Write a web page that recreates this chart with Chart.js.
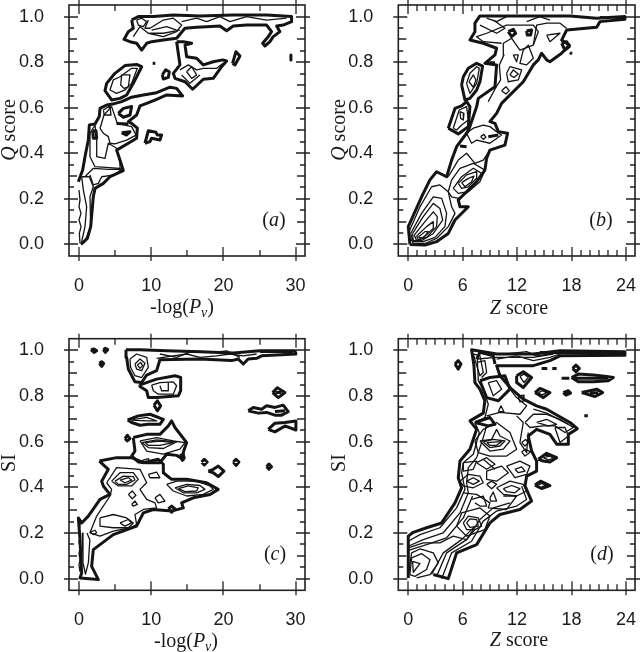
<!DOCTYPE html>
<html lang="en">
<head>
<meta charset="UTF-8">
<title>Q score and SI contours</title>
<script src="https://cdn.jsdelivr.net/npm/chart.js"></script>
<style>
  html, body { margin: 0; padding: 0; background: #fff; }
  #wrap { position: relative; width: 640px; height: 652px; overflow: hidden; }
  canvas { position: absolute; }
</style>
</head>
<body>
<div id="wrap">
  <canvas id="a" width="320" height="326" style="left:0;top:0"></canvas>
  <canvas id="b" width="320" height="326" style="left:320px;top:0"></canvas>
  <canvas id="c" width="320" height="326" style="left:0;top:326px"></canvas>
  <canvas id="d" width="320" height="326" style="left:320px;top:326px"></canvas>
</div>
<script>
// tick values
const yMajor = [0, 0.2, 0.4, 0.6, 0.8, 1];
const yMid = [0.1, 0.3, 0.5, 0.7, 0.9];
const yMinor = [0.05, 0.15, 0.25, 0.35, 0.45, 0.55, 0.65, 0.75, 0.85, 0.95];
const logMajor = [0, 10, 20, 30];
const logMinor = [5, 15, 25];
const zMajor = [0, 6, 12, 18, 24];
const zMinor = [1, 2, 3, 4, 5, 7, 8, 9, 10, 11, 13, 14, 15, 16, 17, 19, 20, 21, 22, 23];

// contours, as flat x,y lists
const aHeavy = [
  [0.28,0,1.15,.026,1.62,.078,1.98,.209,2.22,.246,3.37,.268,4.29,.297,6.14,.324,5.68,.37,5.21,.414,6.83,.444,7.98,.466,8.08,.51,7.29,.531,6.83,.539,7.98,.568,8.44,.608,9.37,.619,10.75,.637,12.14,.656,14.35,.652,13.52,.685,12.6,.69,10.75,.666,8.91,.656,7.29,.646,5.91,.627,4.66,.616,3.83,.612,2.91,.597,2.81,.561,2.22,.529,1.43,.524,1.29,.458,.83,.385,.51,.327,-.09,.275],
  [7.29,.985,8.21,1,10.29,1,13.06,1.007,16.75,1.003,21.37,1.007,25.98,1.007,29.44,1,29.44,.978,28.29,.963,27.37,.959,27.83,.934,26.9,.912,26.44,.89,25.75,.871,25.43,.883,26.21,.912,26.67,.934,25.98,.963,23.21,.963,21.37,.959,20.44,.938,19.52,.959,17.67,.956,16.29,.953,14.68,.949,13.52,.905,11.68,.897,10.06,.89,9.37,.883,8.68,.853,7.98,.883,7.06,.89,6.23,.9,6.83,.934,7.52,.949,7.29,.985],
  [13.52,.89,14.45,.89,15.6,.883,14.68,.875,14.91,.824,16.29,.817,17.21,.788,18.6,.802,19.89,.81,20.44,.805,19.75,.78,18.6,.729,17.21,.725,15.74,.681,14.68,.714,13.29,.729,13.06,.751,13.98,.788,13.75,.839,13.52,.89],
  [11.54,.744,12,.766,12.51,.758,12.37,.733,11.68,.726,11.54,.744],
  [21.27,.795,21.74,.846,22.29,.827,21.6,.788,21.27,.795],
  [10.2,.795,10.57,.795],
  [29.35,.832,29.35,.81],
  [9.14,.444,9.6,.499,10.66,.492,10.85,.48,11.44,.48,11.21,.458,10.06,.466,9.83,.451,9.14,.444],
  [4.98,.751,6.37,.785,7.98,.79,8.68,.78,7.52,.707,6.6,.656,5.68,.641,4.52,.634,3.6,.675,3.83,.707,4.98,.751],
  [5.45,.575,6.14,.597,7.29,.605,7.06,.568,6.14,.558,5.45,.575],
  [1.89,.499,2.35,.499,2.45,.466,1.98,.466,1.89,.499],
  [5.91,.49,7.06,.495,6.6,.48,5.91,.49],
  [5.21,.531,6.83,.529]
];
const aLight = [
  [5.68,.736,7.29,.773,8.08,.773,7.29,.707,6.37,.678,5.21,.663,4.29,.678,4.75,.722,5.68,.736],
  [5.91,.744,7.06,.744,6.83,.692,6.23,.685,5.77,.70,5.91,.744],
  [3.37,.59,4.29,.608,4.43,.568,3.51,.568,3.37,.59],
  [2.91,.509,3.46,.568,4.52,.605,5.31,.531,7.29,.517,7.89,.48,6.6,.458,4.98,.441,4.29,.444,4.06,.473,3.37,.488,2.91,.509],
  [1.52,.488,2.22,.524,2.45,.458,2.45,.385,3.6,.378,4.06,.444,5.21,.422,5.68,.356,5.68,.334,2.22,.341,1.52,.385,1.52,.488],
  [.83,.297,1.98,.334,4.06,.329,5.91,.331,4.98,.305,3.14,.297,2.68,.268,1.98,.261,1.52,.305],
  [.37,.297,1.43,.297,1.98,.253,1.52,.209,1.62,.078,.83,.012,.37,.012,.83,.078,1.06,.165,.6,.239,.37,.297],
  [0,.239,.14,.195,0,.165,.28,.136,0,.107,.28,.078,.05,.048,.14,.004],
  [7.98,.985,8.68,.993,9.37,.978,8.91,.956,8.21,.963,7.98,.985],
  [7.52,.912,8.45,.956,9.6,.927,11.68,.912,13.52,.934,14.21,.963,13.06,.993,11.68,.985,9.83,.949,9.14,.949,9.6,.985],
  [14.21,.978,16.29,.993,17.67,.978,19.52,1,20.9,.978,23.21,1,25.98,.985,28.75,.993],
  [9.83,.927,11.68,.927,13.98,.941],
  [10.06,.941,12.14,.956,13.52,.941],
  [13.98,.766,15.14,.788,16.29,.766,17.21,.773,19.06,.773,19.98,.795],
  [14.91,.758,15.6,.78,16.29,.744,15.6,.729,14.91,.758],
  [14.21,.744,15.37,.707,16.75,.744]
];
const bHeavy = [
  [.18,0,1.84,-.003,3.12,.012,4.41,.048,5.15,.107,6.62,.165,5.7,.165,5.51,.195,6.62,.239,7.54,.275,8.45,.326,8.64,.378,9,.414,10.66,.436,10.95,.488,9.93,.495,9.56,.531,9,.539,9.74,.575,10.29,.619,12.68,.714,13.79,.788,14.34,.81,14.7,.839,15.26,.81,15.62,.802,16.91,.839,17.76,.875,16.91,.897,17.46,.941,20.77,.953,21.14,.978,23.89,.988,23.89,1,20.77,.993,17.83,1.003,7.9,1.003,7.35,.971,7.35,.934,6.8,.897,8.27,.883,9.74,.861,9.56,.832,8.45,.795,9.74,.788,9.56,.692,7.72,.641,7.54,.605,6.73,.51,6.43,.488,5.33,.429,4.78,.37,4.23,.297,3.12,.319,2.39,.283,1.47,.209,0,.078,.18,0],
  [5.88,.70,6.07,.736,6.62,.773,7.54,.795,8.2,.783,7.9,.714,7.54,.678,6.8,.641,6.25,.634,5.88,.70],
  [4.41,.51,5.15,.597,5.88,.608,6.43,.627,6.8,.605,6.62,.517,5.51,.485,4.41,.51],
  [16.91,.883,17.46,.89,17.76,.868,17.28,.853,16.91,.883],
  [11.03,.934,11.58,.944,11.84,.927,11.4,.912,11.03,.934],
  [13.05,.938,13.6,.941,13.49,.919,13.12,.919,13.05,.938],
  [17.83,.842,18.05,.836],
  [8.64,.798,9.56,.798],
  [5.7,.432,6.43,.429],
  [8.82,.473,9.93,.48]
];
const bLight = [
  [0,.048,1.29,.165,2.57,.253,3.49,.261,4.41,.231,4.78,.165,5.15,.136,4.41,.078,3.12,.026,1.84,.004,.55,.004,0,.048],
  [.26,.048,1.47,.136,2.76,.209,3.68,.202,4.23,.136,4.04,.078,2.94,.031,1.65,.012,.55,.012,.26,.048],
  [.48,.048,1.65,.122,2.76,.18,3.49,.158,3.79,.107,2.76,.048,1.47,.016,.55,.016,.48,.048],
  [.66,.041,1.84,.1,2.76,.143,3.2,.122,3.12,.078,2.02,.031,.92,.016,.66,.041],
  [.92,.037,2.02,.078,2.76,.1,2.76,.07,1.84,.037,1.1,.019,.92,.037],
  [1.1,.031,1.84,.056,2.21,.056,1.65,.026,1.1,.031],
  [4.41,.231,4.78,.283,5.7,.334,7.17,.356,8.45,.326,7.9,.275,6.62,.231,5.51,.202,4.78,.209,4.41,.231],
  [4.96,.246,5.88,.297,7.17,.334,8.09,.312,7.35,.268,6.43,.231,5.51,.224,4.96,.246],
  [5.51,.268,6.43,.305,7.54,.319,7.54,.29,6.62,.253,5.88,.246,5.51,.268],
  [5.88,.271,6.62,.29,7.24,.3,6.98,.275,6.25,.253,5.88,.271],
  [4.41,.297,5.51,.37,6.43,.4,7.35,.356,8.27,.37,9,.414],
  [6.43,.488,7.17,.51,8.27,.524,9,.517,9.74,.495,10.29,.48,9,.444,7.54,.458,6.98,.444,6.43,.488],
  [7.98,.473,8.34,.483,8.56,.47,8.27,.461,7.98,.473],
  [8.82,.627,9.67,.69,10.18,.722,10.04,.788,10.55,.832,10.48,.883,11.4,.905,12.31,.853,13.79,.875,14.34,.934,13.79,.963,10.84,.963,8.64,.927,7.54,.912,8.27,.89,10.29,.883],
  [10.29,.675,10.77,.692,11.14,.675,10.77,.66,10.29,.675],
  [10.84,.751,11.21,.78,12.5,.766,12.13,.722,11.03,.714,10.84,.751],
  [11.21,.744,11.58,.766,12.13,.748,11.65,.733,11.21,.744],
  [11.58,.832,12.13,.832,11.95,.802,11.58,.832],
  [12.68,.853,13.23,.875,13.79,.817,13.05,.788,12.31,.795,12.68,.853],
  [15.26,.919,16.73,.927,15.62,.89,15.26,.919],
  [13.79,.875,14.15,.963,15.26,.971,16.73,.971,17.46,.949],
  [7.9,.963,9.74,.927,10.66,.949,9.37,.985],
  [8.64,.993,9.74,.978,10.84,1],
  [13.05,.978,14.52,1,15.62,.985],
  [21.14,1,23.89,.993],
  [6.43,.707,6.8,.751,7.54,.78,7.83,.773,7.54,.707,6.8,.663,6.43,.707],
  [6.69,.714,7.17,.744,7.46,.722,7.17,.69,6.69,.714],
  [4.96,.51,5.62,.59,6.43,.605,6.62,.546,5.88,.524,5.33,.502,4.96,.51],
  [5.7,.583,6.14,.575,6.07,.546,5.77,.553,5.7,.583]
];
const cHeavy = [
  [6.51,1.003,8.45,1.003,12.14,.998,16.75,.994,21.37,.988,25.06,.998,29.9,.998,30.04,.984,25.29,.976,24.6,.965,23.44,.962,22.75,.94,22.06,.962,21.14,.955,16.75,.962,11.21,.959,10.75,.911,9.37,.892,8.68,.859,7.75,.862,6.83,.918,6.6,.969,6.51,1.003],
  [8.35,.848,10.75,.874,13.29,.889,14.08,.881,14.08,.823,13.75,.801,10.75,.793,9.6,.793,9.37,.823,8.45,.842,8.35,.848],
  [10.38,.76,10.85,.779,11.31,.757,10.85,.735,10.38,.76],
  [6.74,.695,8.21,.713,9.83,.72,11.68,.698,11.21,.676,9.6,.676,8.45,.672,7.29,.684,6.74,.695],
  [7.52,.618,9.37,.632,11.21,.632,12.37,.669,12.83,.691,13.29,.662,14.91,.596,14.45,.555,14.45,.523,13.52,.54,12.14,.545,11.21,.508,9.37,.508,8.21,.511,7.29,.537,7.75,.559,7.52,.618],
  [2.82,.515,5.21,.53,7.29,.53,8.91,.508,10.98,.523,11.68,.501,11.68,.464,12.83,.435,14.91,.435,17.67,.42,19.29,.391,18.14,.369,15.83,.354,14.21,.332,14.45,.31,12.83,.296,10.29,.303,8.91,.288,7.98,.23,4.75,.193,2.91,.149,1.98,.127,1.75,.054,2.68,-.004,.14,.003,.37,.025,.14,.171,-.09,.266,.37,.244,1.29,.274,2.91,.347,4.29,.369,3.37,.406,3.14,.427,4.06,.479,2.82,.515],
  [16.98,.511,17.35,.523,17.76,.511,17.35,.498,16.98,.511],
  [17.91,.471,18.6,.479,19.29,.493,20.07,.471,19.29,.447,18.6,.464,17.91,.471],
  [21.37,.511,21.74,.523,22.15,.511,21.74,.496,21.37,.511],
  [25.98,.49,26.31,.502,26.67,.49,26.31,.479,25.98,.49],
  [1.66,1.003,2.08,1.006,2.45,.998,2.08,.991,1.66,1.003],
  [3.37,1.003,3.65,1.009,3.97,1.003,3.65,.991,3.37,1.003],
  [2.82,.943,3.14,.95,3.42,.943,3.14,.93,2.82,.943],
  [26.81,.815,27.46,.836,28.52,.815,27.6,.793,26.81,.815],
  [27.18,.815,28.06,.815],
  [23.44,.735,24.14,.75,25.29,.742,25.98,.757,27.14,.75,28.29,.76,28.98,.731,28.06,.716,27.14,.716,25.98,.728,24.83,.725,23.44,.735],
  [27.14,.732,28.52,.735],
  [26.21,.654,27.14,.681,28.52,.684,30.04,.691,30.04,.651,28.52,.669,27.14,.643,26.21,.654],
  [12.37,.306,12.83,.318,13.29,.306,12.83,.291,12.37,.306],
  [6.37,.613,6.69,.628,7.06,.613,6.69,.603,6.37,.613],
  [13.98,.537,14.35,.545,14.58,.53,14.31,.518,13.98,.537]
];
const cLight = [
  [7.06,.962,7.98,.984,9.37,.969,9.6,.925,8.68,.881,7.75,.889,7.15,.925,7.06,.962],
  [7.75,.94,8.45,.962,9.14,.944,8.68,.911,7.98,.918,7.75,.94],
  [8.08,.936,8.54,.947,8.81,.933,8.45,.921,8.08,.936],
  [10.75,.965,13.06,.976,14.91,.984,16.75,.969,19.06,.976,20.9,.984,22.75,.976,24.6,.984],
  [11.21,.984,13.52,.969,15.83,.998,18.6,.991,20.44,.998,22.29,.969],
  [25.06,.991,29.67,.991],
  [10.06,.848,11.21,.859,13.06,.862,13.52,.845,13.06,.808,10.98,.808,10.29,.823,10.06,.848],
  [11.21,.845,11.45,.823,12.37,.823,12.37,.859],
  [7.29,.695,9.37,.691,10.75,.691,9.37,.706,7.29,.695],
  [8.45,.603,10.75,.618,13.06,.603,14.68,.596,13.98,.567,11.68,.545,9.37,.559,8.45,.603],
  [8.68,.596,10.75,.608,13.52,.599,11.68,.57,9.6,.574,8.68,.596],
  [9.14,.596,11.21,.603,13.06,.596,11.21,.584,9.6,.584,9.14,.596],
  [4.52,.427,5.68,.464,7.52,.464,8.21,.435,7.29,.406,5.45,.406,4.52,.427],
  [4.98,.427,6.14,.449,7.52,.447,7.75,.432,6.6,.413,5.45,.413,4.98,.427],
  [5.68,.432,6.83,.442,7.29,.432,6.37,.42,5.68,.432],
  [3.83,.42,5.21,.486,8.45,.479,9.37,.42,8.45,.391,9.37,.347,10.52,.332,10.75,.31,8.91,.303,7.75,.281,7.98,.237,7.06,.223,4.75,.208,2.91,.186,1.52,.201,2.45,.274,4.29,.362,4.52,.391,3.83,.42],
  [12.14,.413,13.52,.427,16.29,.427,18.14,.406,18.6,.391,17.21,.369,14.91,.362,13.06,.384,12.14,.413],
  [13.29,.398,14.91,.413,16.75,.408,17.44,.391,16.29,.376,14.45,.376,13.29,.398],
  [13.75,.394,15.14,.406,16.52,.398,16.29,.384,14.68,.381,13.75,.394],
  [2.91,.266,4.75,.281,6.6,.266,7.52,.244,6.83,.223,4.75,.223,2.91,.23,2.91,.266],
  [5.68,.244,6.83,.259,7.29,.244,6.37,.23,5.68,.244],
  [1.52,.204,2.22,.212,2.45,.201,1.98,.193,1.52,.204],
  [6.83,.369,7.38,.384,7.89,.365,7.38,.35,6.83,.369],
  [7.29,.325,7.75,.34,8.08,.325,7.52,.318,7.29,.325],
  [8.45,.515,9.6,.526,9.83,.508,8.68,.505,8.45,.515],
  [9.6,.457,10.75,.467,11.21,.442,9.83,.442,9.6,.457],
  [10.52,.354,11.21,.369,11.91,.34,10.98,.332,10.52,.354],
  [.46,.2,.55,.07,.9,.02,1.3,.07,1.5,.17,1.1,.2],
  [0,.26,.14,.235,0,.21,.14,.185,0,.16,.14,.135,0,.11,.14,.085,0,.06,.14,.03]
];
const dHeavy = [
  [0,.003,0,.186,.55,.203,2.02,.223,3.68,.244,5.15,.332,5.88,.398,5.51,.442,5.7,.515,6.8,.567,7.54,.654,6.8,.691,8.27,.725,8.45,.779,7.9,.83,7.35,.859,7.24,.933,6.98,1.003,9.74,.984,13.79,.984,16.73,.998,23.89,.994,23.89,.979,16.73,.976,15.62,.955,13.79,.933,9.74,.933,10.11,.889,11.4,.83,12.68,.786,14.15,.757,15.26,.742,17.83,.684,18.64,.657,17.65,.632,17.65,.589,16.36,.589,15.62,.632,14.15,.654,13.23,.625,13.6,.559,14.15,.515,14.15,.471,13.05,.449,12.87,.406,13.6,.34,12.31,.303,10.11,.281,9,.244,7.54,.149,5.33,.113,4.41,0,2.76,.018],
  [7.9,.867,9,.881,10.66,.889,11.21,.83,9.93,.779,8.64,.793,7.9,.867],
  [11.95,.889,12.68,.906,13.6,.881,12.68,.837,11.95,.859,11.95,.889],
  [13.97,.815,14.52,.833,15.62,.815,14.89,.793,13.97,.815],
  [14.34,.523,15.26,.549,16.36,.53,15.62,.511,14.89,.515,14.34,.523],
  [13.97,.41,14.59,.427,15.62,.408,14.7,.395,13.97,.41],
  [5.15,.94,5.51,.955,5.81,.94,5.51,.918,5.15,.94],
  [14.7,.921,15.33,.921],
  [15.88,.921,16.36,.921],
  [18.12,.921,18.49,.935,18.86,.921,18.49,.906,18.12,.921],
  [16.91,.878,17.76,.878],
  [18.01,.881,18.75,.896,20.4,.892,21.87,.886,22.61,.881,22.06,.867,20.4,.862,18.75,.862,18.01,.881],
  [18.38,.878,22.06,.878],
  [17.09,.815,17.65,.823,17.9,.813,17.39,.804,17.09,.815],
  [19.12,.815,20.03,.823,20.77,.83,21.43,.815,20.59,.798,19.12,.815],
  [20.03,.814,20.95,.814],
  [19.41,.713,19.8,.713],
  [7.35,.684,9,.706,9.56,.676,8.82,.669,7.35,.684],
  [7.54,.962,7.9,.991,9.37,.976,9.56,.94],
  [14.52,.991,23.89,.987]
];
const dLight = [
  [0,.164,1.29,.193,3.49,.223,5.33,.31,6.25,.391,5.88,.464,6.07,.508,7.17,.545,7.83,.64,7.35,.684,8.45,.706,8.82,.764,8.27,.83,7.72,.867,7.61,.962,9.74,.969,13.79,.969,15.99,.984],
  [0,.142,1.65,.171,3.86,.201,5.7,.288,6.62,.376,6.43,.42,6.62,.486,7.54,.53,8.27,.618,8.64,.669],
  [0,.124,2.02,.149,4.23,.179,6.07,.266,7.09,.362],
  [3.68,0,4.78,.113,6.98,.164,8.27,.252,9.74,.296,11.95,.318,13.05,.347,12.5,.406],
  [3.12,.01,4.23,.113,6.43,.171,7.9,.259,9.37,.31,11.21,.332],
  [2.57,.018,3.86,.113,5.88,.171,7.35,.23],
  [0,.018,.37,.113,1.29,.13,2.76,.113,3.31,.069,2.39,.018,.92,.003],
  [.18,.018,.37,.091,1.47,.11,2.39,.083,2.02,.04,.74,.01,.18,.018],
  [.48,.076,1.29,.066,.55,.028,.48,.076],
  [0,.135,1.65,.157,3.49,.157,4.96,.186,6.43,.171,7.35,.215],
  [6.07,.244,6.62,.274,7.72,.266,8.09,.23,7.35,.215,6.43,.215,6.07,.244],
  [6.43,.244,6.8,.262,7.54,.259,7.72,.23,6.8,.225,6.43,.244],
  [5.33,.23,5.88,.288,7.9,.31,9,.274,8.45,.215,6.43,.186,5.33,.23],
  [7.9,.603,9.19,.61,9.74,.654,10.11,.625,11.21,.603,10.48,.567,9,.559,7.9,.603],
  [8.27,.599,9.37,.61,10.66,.603,10.11,.581,9,.574,8.27,.599],
  [8.64,.596,10.29,.6,9.74,.584,9,.584,8.64,.596],
  [7.35,.603,8.27,.654,9.74,.684,11.21,.64,11.95,.567,10.84,.537,9,.537,7.72,.552,7.35,.603],
  [9.74,.398,11.21,.427,12.68,.413,13.05,.384,11.95,.362,10.48,.369,9.74,.398],
  [10.48,.394,11.4,.408,12.31,.394,11.76,.376,10.84,.381,10.48,.394],
  [5.7,.427,6.62,.457,7.9,.449,8.27,.42,7.17,.398,6.07,.406,5.7,.427],
  [6.43,.427,7.17,.442,7.83,.427,7.17,.413,6.43,.427],
  [10.84,.493,12.31,.515,13.42,.493,13.05,.457,11.76,.442,10.84,.493],
  [11.76,.479,12.5,.49,12.87,.471,12.13,.464,11.76,.479],
  [7.54,.508,8.64,.53,9.56,.501,8.64,.479,7.54,.508],
  [8.27,.523,9.56,.479],
  [6.07,.508,7.54,.515,7.17,.479,6.07,.471,6.07,.508],
  [8.64,.471,10.29,.493,11.03,.464,9.74,.427,8.64,.435,8.64,.471],
  [8.82,.859,9.74,.867,10.29,.83,9.37,.801,8.82,.859],
  [12.31,.886,12.76,.896,13.23,.881,12.76,.859,12.31,.886],
  [9.93,.731,10.22,.757,10.55,.731,9.93,.731],
  [12.13,.798,12.68,.804,12.76,.779,12.31,.774,12.13,.798],
  [14.34,.815,14.81,.823,15.26,.815,14.7,.804,14.34,.815],
  [14.89,.53,15.62,.537,15.99,.527,15.44,.52,14.89,.53],
  [14.34,.41,14.7,.417,15.26,.408,14.7,.403],
  [12.87,.684,13.79,.72,15.26,.72,16.73,.698,18.2,.662,17.28,.64,16.17,.669,14.89,.669,13.42,.662,12.87,.684],
  [14.15,.684,15.26,.698,16.36,.676,15.44,.669,14.15,.684],
  [16.17,.662,17.28,.662,17.65,.625,16.73,.596,16.17,.662],
  [13.79,.742,15.26,.725,17.65,.676],
  [8.64,.713,10.11,.728,12.31,.72,13.05,.757,11.95,.793,11.21,.83],
  [11.95,.713,12.68,.684,12.31,.596,13.05,.552,13.23,.64],
  [12.5,.596,12.94,.61,13.23,.596,12.87,.581,12.5,.596],
  [12.5,.555,12.87,.567,13.49,.555,12.87,.537,12.5,.555],
  [9,.354,9.37,.379,9.74,.34,9.08,.34,9,.354],
  [8.64,.413,9.19,.427,9.74,.413,9.19,.394,8.64,.413],
  [6.07,.376,7.54,.369,9,.332,8.82,.31,10.84,.303,11.95,.362,10.48,.362],
  [6.98,.347,8.27,.362,8.64,.318,7.9,.318,7.35,.332],
  [7.17,.984,7.9,.976,8.27,.903,7.9,.889,7.54,.933,7.17,.984],
  [7.54,.947,8.45,.955,8.64,.903,8.09,.881],
  [9.74,.962,11.95,.976,13.79,.955,15.62,.969,16.73,.984],
  [10.84,.984,13.05,.994,14.15,.976,16.73,.991]
];

// axis text as styled runs: n normal, i italic, s italic subscript
const titleLog = [['-log(', 'n'], ['P', 'i'], ['v', 's'], [')', 'n']];
const titleZ = [['Z', 'i'], [' score', 'n']];
const titleQ = [['Q', 'i'], [' score', 'n']];
const titleSI = [['SI', 'n']];

function toPoints(flat) {
  const pts = [];
  for (let i = 0; i < flat.length; i += 2) pts.push({ x: flat[i], y: flat[i + 1] });
  return pts;
}

function runFont(style, size) {
  const face = 'px "Liberation Serif", serif';
  if (style === 'i') return 'italic ' + size + face;
  if (style === 's') return 'italic ' + Math.round(size * 0.7) + face;
  return size + face;
}

function drawRuns(ctx, runs, cx, baseline, size, rotate) {
  ctx.save();
  ctx.translate(cx, baseline);
  if (rotate) ctx.rotate(-Math.PI / 2);
  ctx.fillStyle = '#1a1a1a';
  ctx.textBaseline = 'alphabetic';
  ctx.textAlign = 'left';
  let total = 0;
  runs.forEach(r => { ctx.font = runFont(r[1], size); total += ctx.measureText(r[0]).width; });
  let x = -total / 2;
  runs.forEach(r => {
    ctx.font = runFont(r[1], size);
    ctx.fillText(r[0], x, r[1] === 's' ? 4 : 0);
    x += ctx.measureText(r[0]).width;
  });
  ctx.restore();
}

// frame, in/out ticks and the rich text titles
const framePlugin = {
  id: 'frame',
  afterDraw(chart, args, opts) {
    const { ctx, chartArea: ca, scales: { x, y } } = chart;
    ctx.save();
    ctx.strokeStyle = '#222';
    ctx.lineWidth = 1.6;
    ctx.strokeRect(ca.left, ca.top, ca.right - ca.left, ca.bottom - ca.top);
    const hTick = (v, out, inn) => {
      const p = Math.round(y.getPixelForValue(v));
      ctx.moveTo(ca.left - out, p); ctx.lineTo(ca.left + inn, p);
      ctx.moveTo(ca.right + out, p); ctx.lineTo(ca.right - inn, p);
    };
    const vTick = (v, out, inn) => {
      const p = Math.round(x.getPixelForValue(v));
      ctx.moveTo(p, ca.top - out); ctx.lineTo(p, ca.top + inn);
      ctx.moveTo(p, ca.bottom + out); ctx.lineTo(p, ca.bottom - inn);
    };
    ctx.beginPath();
    ctx.lineWidth = 1.3;
    yMajor.forEach(v => hTick(v, 5, 9));
    yMid.forEach(v => hTick(v, 0, 8));
    yMinor.forEach(v => hTick(v, 0, 5));
    opts.xMajor.forEach(v => vTick(v, 5, 9));
    opts.xMinor.forEach(v => vTick(v, 0, 6));
    ctx.stroke();
    ctx.restore();

    drawRuns(ctx, opts.xTitle, opts.xTitleAt[0], opts.xTitleAt[1], 20, false);
    drawRuns(ctx, opts.yTitle, opts.yTitleAt[0], opts.yTitleAt[1], 20, true);
    const tag = [['(', 'n'], [opts.tag, 'i'], [')', 'n']];
    drawRuns(ctx, tag, opts.tagAt[0], opts.tagAt[1], 20, false);
  }
};

function makePanel(id, cfg) {
  const heavy = cfg.heavy.map(c => ({ data: toPoints(c), borderWidth: 3 }));
  const light = cfg.light.map(c => ({ data: toPoints(c), borderWidth: 1.3 }));
  const datasets = light.concat(heavy).map(d => Object.assign(d, {
    showLine: true, tension: 0, pointRadius: 0, borderColor: '#141414', fill: false, borderJoinStyle: 'round'
  }));
  new Chart(document.getElementById(id), {
    type: 'scatter',
    data: { datasets },
    options: {
      responsive: false,
      animation: false,
      devicePixelRatio: 1,
      layout: { padding: { top: cfg.top, right: cfg.right, left: 0, bottom: 0 } },
      plugins: {
        legend: { display: false },
        tooltip: { enabled: false },
        frame: cfg.frame
      },
      scales: {
        x: {
          type: 'linear', min: cfg.xMin, max: cfg.xMax,
          grid: { display: false }, border: { display: false },
          afterBuildTicks: ax => { ax.ticks = cfg.frame.xMajor.map(v => ({ value: v })); },
          afterFit: ax => { ax.height = cfg.xHeight; ax.paddingLeft = 0; ax.paddingRight = 0; },
          ticks: {
            autoSkip: false, maxRotation: 0, padding: 11, color: '#1a1a1a',
            font: { family: '"Liberation Sans", sans-serif', size: 18 },
            callback: v => String(v)
          }
        },
        y: {
          type: 'linear', min: -0.051, max: 1.051,
          grid: { display: false }, border: { display: false },
          afterBuildTicks: ax => { ax.ticks = yMajor.map(v => ({ value: v })); },
          afterFit: ax => { ax.width = cfg.yWidth; ax.paddingTop = 0; ax.paddingBottom = 0; },
          ticks: {
            autoSkip: false, padding: 17, color: '#1a1a1a',
            font: { family: '"Liberation Sans", sans-serif', size: 18 },
            callback: v => Number(v).toFixed(1)
          }
        }
      }
    },
    plugins: [framePlugin]
  });
}

makePanel('a', {
  heavy: aHeavy, light: aLight, top: 5, right: 15, xHeight: 70, yWidth: 69, xMin: -1.385, xMax: 31.3,
  frame: { xMajor: logMajor, xMinor: logMinor, xTitle: titleLog, xTitleAt: [182, 313], yTitle: titleQ, yTitleAt: [15, 130], tag: 'a', tagAt: [274, 226] }
});
makePanel('b', {
  heavy: bHeavy, light: bLight, top: 5, right: 5, xHeight: 70, yWidth: 78.3, xMin: -1.1, xMax: 25,
  frame: { xMajor: zMajor, xMinor: zMinor, xTitle: titleZ, xTitleAt: [199, 314], yTitle: titleQ, yTitleAt: [25, 130], tag: 'b', tagAt: [281, 226] }
});
makePanel('c', {
  heavy: cHeavy, light: cLight, top: 12.7, right: 15, xHeight: 61.7, yWidth: 69, xMin: -1.385, xMax: 31.3,
  frame: { xMajor: logMajor, xMinor: logMinor, xTitle: titleLog, xTitleAt: [186, 321], yTitle: titleSI, yTitleAt: [15, 137], tag: 'c', tagAt: [275, 234] }
});
makePanel('d', {
  heavy: dHeavy, light: dLight, top: 12.7, right: 5, xHeight: 61.7, yWidth: 78.3, xMin: -1.1, xMax: 25,
  frame: { xMajor: zMajor, xMinor: zMinor, xTitle: titleZ, xTitleAt: [199, 320], yTitle: titleSI, yTitleAt: [25, 137], tag: 'd', tagAt: [282, 234] }
});
</script>
</body>
</html>
